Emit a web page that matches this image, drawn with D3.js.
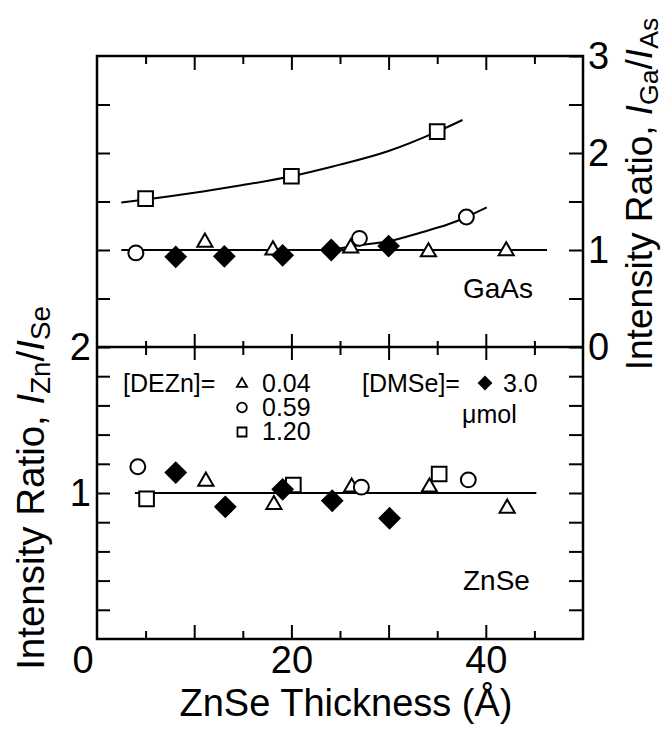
<!DOCTYPE html>
<html>
<head>
<meta charset="utf-8">
<script src="https://cdn.jsdelivr.net/npm/d3@7"></script>
<style>
  body { margin: 0; background: #fff; }
  svg { display: block; }
  text { font-family: "Liberation Sans", Arial, sans-serif; fill: #000; }
</style>
</head>
<body>
<svg id="chart" width="665" height="729"></svg>
<script>
// readings: [ZnSe thickness (Å), intensity ratio]
// GaAs panel (I_Ga / I_As)
const gaasTri  = [[11.1, 1.08], [18.1, 1.0], [26.1, 1.02], [34.1, 0.98], [42.1, 0.99]];
const gaasCirc = [[4.0, 0.97], [27.0, 1.12], [38.0, 1.34]];
const gaasSq   = [[5.0, 1.53], [20.0, 1.76], [35.0, 2.22]];
const gaasDia  = [[8.1, 0.93], [13.1, 0.935], [19.1, 0.945], [24.1, 1.0], [30.0, 1.04]];
const gaasFlat = [[2.5, 1.0], [46.3, 1.0]];
const gaasSqFit   = [[2.5, 1.49], [5, 1.52], [10, 1.59], [15, 1.67], [20, 1.76], [25, 1.88], [30, 2.02], [35, 2.22], [37.6, 2.34]];
const gaasCircFit = [[24, 1.0], [27, 1.05], [30, 1.09], [33, 1.17], [36, 1.26], [38, 1.34], [40.1, 1.44]];

// ZnSe panel (I_Zn / I_Se)
const znseTri  = [[11.2, 1.08], [18.2, 0.92], [26.2, 1.04], [34.2, 1.04], [42.2, 0.895]];
const znseCirc = [[4.2, 1.18], [27.2, 1.04], [38.2, 1.09]];
const znseSq   = [[5.1, 0.96], [20.2, 1.055], [35.2, 1.13]];
const znseDia  = [[8.1, 1.14], [13.2, 0.905], [19.1, 1.025], [24.2, 0.947], [30.1, 0.827]];
const znseFlat = [[3.9, 1.0], [45.2, 1.0]];

// legend values (µmol)
const dezn = ["0.04", "0.59", "1.20"];
const dmse = ["3.0"];

const xTicksMajor = [10, 20, 30, 40];
const xTicksMinor = [5, 15, 25, 35, 45];
const xLabels = [0, 20, 40];

const svg = d3.select("#chart");
const font = "'Liberation Sans', Arial, sans-serif";

const x = d3.scaleLinear().domain([0, 50]).range([97, 583]);
const yTop = d3.scaleLinear().domain([0, 3]).range([347, 56]);
const yBot = d3.scaleLinear().domain([0, 2]).range([639, 347]);

function ticks(g) {
  g.select(".domain").remove();
  g.selectAll(".tick line").attr("stroke", "#000").attr("stroke-width", 2);
  g.selectAll("text").attr("font-size", 38).attr("font-family", font).attr("fill", "#000");
}

// top edge
svg.append("g").attr("transform", "translate(0,56)")
  .call(d3.axisTop(x).tickValues(xTicksMajor).tickSize(-14).tickFormat("")).call(ticks);
svg.append("g").attr("transform", "translate(0,56)")
  .call(d3.axisTop(x).tickValues(xTicksMinor).tickSize(-8).tickFormat("")).call(ticks);

// divider between panels, ticks on both sides
svg.append("g").attr("transform", "translate(0,347)")
  .call(d3.axisTop(x).tickValues(xTicksMajor).tickSize(13).tickFormat("")).call(ticks);
svg.append("g").attr("transform", "translate(0,347)")
  .call(d3.axisBottom(x).tickValues(xTicksMajor).tickSize(13).tickFormat("")).call(ticks);
svg.append("g").attr("transform", "translate(0,347)")
  .call(d3.axisTop(x).tickValues(xTicksMinor).tickSize(6).tickFormat("")).call(ticks);
svg.append("g").attr("transform", "translate(0,347)")
  .call(d3.axisBottom(x).tickValues(xTicksMinor).tickSize(8).tickFormat("")).call(ticks);

// bottom x axis
svg.append("g").attr("transform", "translate(0,639)")
  .call(d3.axisBottom(x).tickValues(xTicksMajor).tickSize(-14).tickFormat("")).call(ticks);
svg.append("g").attr("transform", "translate(0,639)")
  .call(d3.axisBottom(x).tickValues(xTicksMinor).tickSize(-8).tickFormat("")).call(ticks);
const xLab = svg.append("g").attr("transform", "translate(0,639)")
  .call(d3.axisBottom(x).tickValues(xLabels).tickSize(0).tickPadding(7)).call(ticks);
xLab.selectAll(".tick").filter(d => d === 0)
  .attr("transform", `translate(${x(0) - 14},0)`);

// left axes
svg.append("g").attr("transform", "translate(97,0)")
  .call(d3.axisLeft(yTop).tickValues([0.5, 1, 1.5, 2, 2.5]).tickSize(-13).tickFormat("")).call(ticks);
svg.append("g").attr("transform", "translate(97,0)")
  .call(d3.axisLeft(yBot).tickValues(d3.range(1, 11).map(i => i * 0.2))
    .tickSize(-13).tickPadding(6)
    .tickFormat(d => Math.abs(d - Math.round(d)) < 1e-6 ? Math.round(d) : "")).call(ticks);

// right axes
svg.append("g").attr("transform", "translate(583,0)")
  .call(d3.axisRight(yTop).tickValues(d3.range(0, 7).map(i => i * 0.5))
    .tickSize(-14).tickPadding(5)
    .tickFormat(d => Number.isInteger(d) ? d : "")).call(ticks);
svg.append("g").attr("transform", "translate(583,0)")
  .call(d3.axisRight(yBot).tickValues(d3.range(1, 10).map(i => i * 0.2)).tickSize(-14).tickFormat("")).call(ticks);

// frame
svg.append("rect")
  .attr("x", x(0)).attr("y", yTop(3))
  .attr("width", x(50) - x(0)).attr("height", yBot(0) - yTop(3))
  .attr("fill", "none").attr("stroke", "#000").attr("stroke-width", 2.5);
svg.append("line")
  .attr("x1", x(0)).attr("x2", x(50)).attr("y1", yTop(0)).attr("y2", yTop(0))
  .attr("stroke", "#000").attr("stroke-width", 2.5);

// fit lines
function fit(data, y, curve) {
  svg.append("path").datum(data)
    .attr("fill", "none").attr("stroke", "#000").attr("stroke-width", 2)
    .attr("d", d3.line().x(d => x(d[0])).y(d => y(d[1])).curve(curve || d3.curveLinear));
}
fit(gaasFlat, yTop);
fit(gaasSqFit, yTop, d3.curveNatural);
fit(gaasCircFit, yTop, d3.curveNatural);
fit(znseFlat, yBot);

// markers
const shapes = {
  tri:  { type: d3.symbolTriangle, size: 100, fill: "#fff", rot: 0 },
  circ: { type: d3.symbolCircle, size: 175, fill: "#fff", rot: 0 },
  sq:   { type: d3.symbolSquare, size: 215, fill: "#fff", rot: 0 },
  dia:  { type: d3.symbolSquare, size: 200, fill: "#000", rot: 45 }
};
function marks(data, y, kind) {
  const s = shapes[kind];
  svg.append("g").selectAll("path").data(data).join("path")
    .attr("transform", d => `translate(${x(d[0])},${y(d[1])}) rotate(${s.rot})`)
    .attr("d", d3.symbol(s.type, s.size))
    .attr("fill", s.fill).attr("stroke", "#000").attr("stroke-width", 2);
}
marks(gaasTri, yTop, "tri");
marks(gaasCirc, yTop, "circ");
marks(gaasSq, yTop, "sq");
marks(gaasDia, yTop, "dia");
marks(znseTri, yBot, "tri");
marks(znseCirc, yBot, "circ");
marks(znseSq, yBot, "sq");
marks(znseDia, yBot, "dia");

// legend
const lg = svg.append("g").attr("font-size", 25);
lg.append("text").attr("x", 123).attr("y", 392).text("[DEZn]=");
const legKinds = ["tri", "circ", "sq"];
const legScale = { tri: 0.45, circ: 0.42, sq: 0.38, dia: 0.55 };
dezn.forEach((v, i) => {
  const k = legKinds[i], s = shapes[k];
  const cy = 383 + i * 24.5;
  lg.append("path")
    .attr("transform", `translate(242,${cy + (k === "tri" ? 1 : 0)})`)
    .attr("d", d3.symbol(s.type, s.size * legScale[k]))
    .attr("fill", "#fff").attr("stroke", "#000").attr("stroke-width", 1.8);
  lg.append("text").attr("x", 262).attr("y", 392 + i * 24).text(v);
});
lg.append("text").attr("x", 362).attr("y", 392).text("[DMSe]=");
lg.append("path")
  .attr("transform", "translate(485,383) rotate(45)")
  .attr("d", d3.symbol(d3.symbolSquare, shapes.dia.size * legScale.dia))
  .attr("fill", "#000");
lg.append("text").attr("x", 503).attr("y", 392).text(dmse[0]);
lg.append("text").attr("x", 462).attr("y", 423).text("\u03bcmol");

// panel labels
svg.append("text").attr("x", 463).attr("y", 298).attr("font-size", 28).text("GaAs");
svg.append("text").attr("x", 463).attr("y", 590).attr("font-size", 28).text("ZnSe");

// axis titles
svg.append("text").attr("x", 346).attr("y", 716).attr("text-anchor", "middle")
  .attr("font-size", 38).text("ZnSe Thickness (\u00c5)");

function ratioTitle(tx, ty, size, a, b) {
  const t = svg.append("text")
    .attr("transform", `translate(${tx},${ty}) rotate(-90)`)
    .attr("text-anchor", "middle").attr("font-size", size);
  t.append("tspan").text("Intensity Ratio, ");
  t.append("tspan").attr("font-style", "italic").text("I");
  t.append("tspan").attr("font-size", size * 0.72).attr("dy", 6).text(a);
  t.append("tspan").attr("dy", -6).text("/");
  t.append("tspan").attr("font-style", "italic").text("I");
  t.append("tspan").attr("font-size", size * 0.72).attr("dy", 6).text(b);
}
ratioTitle(44, 488, 38.5, "Zn", "Se");
ratioTitle(652, 194, 37, "Ga", "As");
</script>
</body>
</html>
